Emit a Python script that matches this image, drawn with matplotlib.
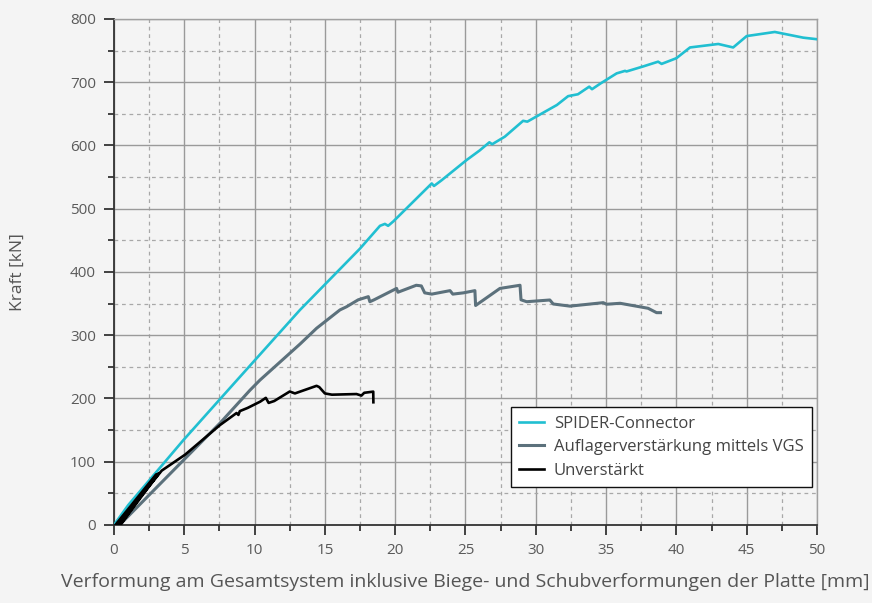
import matplotlib
matplotlib.use("Agg")
import matplotlib.pyplot as plt
from matplotlib.ticker import MultipleLocator

plt.rcParams["font.family"] = ["Open Sans", "DejaVu Sans"]

# SPIDER-Connector
spider_x = [0, 1.02, 4.93, 8.75, 13.23, 17.5, 18.92, 19.27, 19.5, 19.87, 22.6, 22.76, 23.3,
            25.08, 26.0, 26.7, 26.9, 27.8, 29.1, 29.4, 31.5, 32.3, 33.0, 33.8, 34.0, 34.6,
            35.75, 36.35, 36.45, 37.64, 38.7, 38.95, 40.0, 40.97, 42.98, 44.04, 45.0, 47.0,
            49.02, 50.0]
spider_y = [0, 31.6, 134, 229, 340, 437, 473, 476, 473, 480, 540, 536, 545,
            577, 592, 605, 602, 614, 639, 637.7, 664, 678, 681, 693, 689, 698,
            714, 718, 717, 725, 732.5, 729, 738, 755, 760.5, 755, 773, 779.5,
            770.5, 768]

# Auflagerverstärkung mittels VGS
vgs_x = [0.4, 7.54, 9.67, 10.38, 13.23, 14.41, 16.07, 16.54, 17.37, 18.09, 18.2, 18.5,
         20.1, 20.2, 21.5, 21.86, 22.1, 22.6, 23.9, 24.1, 24.85, 25.67, 25.72, 27.45,
         28.88, 28.95, 29.35, 31.0, 31.24, 32.43, 34.8, 35.03, 36.0, 37.64, 37.99,
         38.59, 38.87]
vgs_y = [0, 161, 213, 229, 286, 311, 340, 345, 356, 361, 353, 356,
         374, 368, 379, 378, 367, 365, 370.5, 365, 367, 370.5, 347, 374,
         379, 356, 353, 355.7, 349.4, 346, 351.5, 349, 350.5, 344, 342.6,
         335.7, 335.7]

# Unverstärkt
unv_x = [0.1, 3.0, 0.45, 3.2, 0.25, 3.4, 5.05, 7.54, 8.72, 8.85, 8.95, 9.5, 10.4, 10.8,
         11.0, 11.4, 12.5, 12.87, 14.41, 14.6, 15.0, 15.5, 17.25, 17.6, 17.8, 18.44, 18.45]
unv_y = [0, 80, 0, 82, 0, 86, 111, 158, 177, 174, 180, 185, 195, 201,
         193, 196, 211, 208, 220, 218, 208, 206, 207, 204.6, 209, 210.8, 194]

fig = plt.figure(figsize=(8.72, 6.03), dpi=100, facecolor="#f4f4f4")
ax = fig.add_axes([0.1307, 0.1294, 0.8062, 0.8391], facecolor="#f4f4f4")

ax.plot(spider_x, spider_y, color="#21bfd1", lw=1.9, label="SPIDER-Connector", zorder=3)
ax.plot(vgs_x, vgs_y, color="#5c717c", lw=2.2, label="Auflagerverstärkung mittels VGS", zorder=3)
ax.plot(unv_x, unv_y, color="#000000", lw=1.9, label="Unverstärkt", zorder=4)

ax.set_xlim(0, 50)
ax.set_ylim(0, 800)
ax.xaxis.set_major_locator(MultipleLocator(5))
ax.xaxis.set_minor_locator(MultipleLocator(2.5))
ax.yaxis.set_major_locator(MultipleLocator(100))
ax.yaxis.set_minor_locator(MultipleLocator(50))

ax.grid(which="major", color="#9a9a9a", lw=1.0, ls="-", zorder=0)
ax.grid(which="minor", color="#a8a8a8", lw=0.9, ls=(0, (3, 3)), zorder=0)
ax.set_axisbelow(True)

for side in ["left", "bottom"]:
    ax.spines[side].set_color("#333333")
    ax.spines[side].set_linewidth(1.3)
for side in ["top", "right"]:
    ax.spines[side].set_color("#a0a0a0")
    ax.spines[side].set_linewidth(1.0)

ax.tick_params(which="major", length=7, width=1.2, color="#222222",
               labelsize=11, labelcolor="#5a5a5a", pad=6)
ax.tick_params(which="minor", length=4, width=1.2, color="#222222")

ax.set_xlabel("Verformung am Gesamtsystem inklusive Biege- und Schubverformungen der Platte [mm]",
              fontsize=14, color="#555555", labelpad=11)
ax.set_ylabel("Kraft [kN]", fontsize=12.5, color="#555555", labelpad=32)

leg = ax.legend(loc="lower right", bbox_to_anchor=(0.993, 0.075), borderaxespad=0,
                fontsize=12, frameon=True, fancybox=False, framealpha=1,
                handlelength=1.5, handletextpad=0.6, labelspacing=0.45, borderpad=0.5)
leg.get_frame().set_edgecolor("#111111")
leg.get_frame().set_linewidth(1.0)
for t in leg.get_texts():
    t.set_color("#444444")

fig.savefig("out.png", dpi=100, facecolor=fig.get_facecolor())
